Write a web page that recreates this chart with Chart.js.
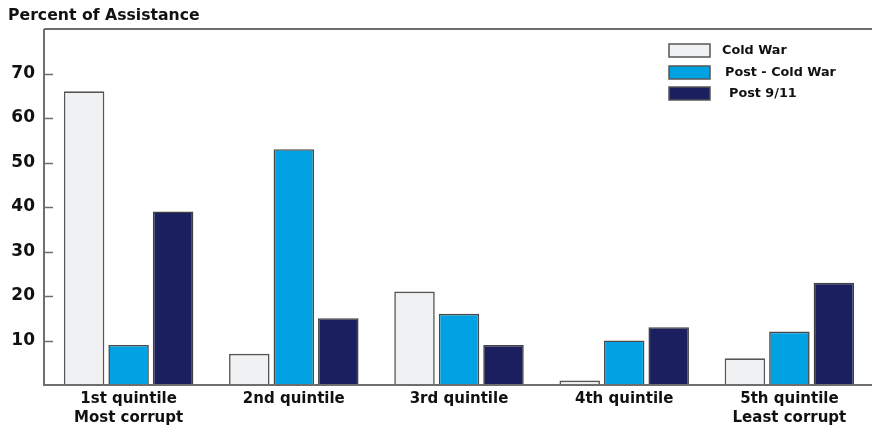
<!DOCTYPE html>
<html>
<head>
<meta charset="utf-8">
<script src="https://cdn.jsdelivr.net/npm/chart.js@4.4.1/dist/chart.umd.min.js"></script>
<style>
  html, body { margin: 0; padding: 0; background: #ffffff; }
  #wrap { width: 872px; height: 426px; }
</style>
</head>
<body>
<div id="wrap"><canvas id="c" width="872" height="426"></canvas></div>
<script>
// Share of assistance by corruption quintile, across three periods
const categories = [
  ["1st quintile", "Most corrupt"],
  "2nd quintile",
  "3rd quintile",
  "4th quintile",
  ["5th quintile", "Least corrupt"]
];
const coldWar     = [66, 7, 21, 1, 6];
const postColdWar = [9, 53, 16, 10, 12];
const post911     = [39, 15, 9, 13, 23];
const seriesNames = ["Cold War", "Post - Cold War", "Post 9/11"];
const yTicks = [10, 20, 30, 40, 50, 60, 70];
const titleText = "Percent of Assistance";

const FONT = "'DejaVu Sans', Verdana, sans-serif";
const AXIS = "#6e6e6e";
const AXIS_X = 44;

// Title, frame lines, inward tick marks and the legend
const decorations = {
  id: "decorations",
  afterDraw(chart) {
    const ctx = chart.ctx;
    const area = chart.chartArea;
    const y = chart.scales.y;
    ctx.save();

    ctx.fillStyle = "#111";
    ctx.font = "bold 15.7px " + FONT;
    ctx.textAlign = "left";
    ctx.textBaseline = "middle";
    ctx.fillText(titleText, 8, 16);

    ctx.strokeStyle = AXIS;
    ctx.lineWidth = 2;
    ctx.beginPath();
    ctx.moveTo(AXIS_X, area.top);
    ctx.lineTo(872, area.top);
    ctx.moveTo(AXIS_X, area.top);
    ctx.lineTo(AXIS_X, area.bottom + 1);
    ctx.moveTo(AXIS_X, area.bottom);
    ctx.lineTo(872, area.bottom);
    ctx.stroke();

    ctx.lineWidth = 1.5;
    yTicks.forEach(v => {
      const py = Math.round(y.getPixelForValue(v)) + 0.5;
      ctx.beginPath();
      ctx.moveTo(AXIS_X, py);
      ctx.lineTo(AXIS_X + 9, py);
      ctx.stroke();
    });

    const boxX = 669, boxW = 41, boxH = 13;
    const rowY = [44, 66, 87];
    const textX = [722, 725, 729];
    chart.data.datasets.forEach((ds, i) => {
      ctx.fillStyle = ds.backgroundColor;
      ctx.fillRect(boxX, rowY[i], boxW, boxH);
      ctx.strokeStyle = "#555";
      ctx.lineWidth = 1.5;
      ctx.strokeRect(boxX, rowY[i], boxW, boxH);
      ctx.fillStyle = "#111";
      ctx.font = "bold 12.8px " + FONT;
      ctx.textBaseline = "middle";
      ctx.fillText(ds.label, textX[i], rowY[i] + boxH / 2);
    });
    ctx.restore();
  }
};

new Chart(document.getElementById("c"), {
  type: "bar",
  data: {
    labels: categories,
    datasets: [
      { label: seriesNames[0], data: coldWar, backgroundColor: "#f0f1f3", borderColor: "#555555" },
      { label: seriesNames[1], data: postColdWar, backgroundColor: "#00a2e3", borderColor: "#4a4a4a" },
      { label: seriesNames[2], data: post911, backgroundColor: "#1c1f5f", borderColor: "#404040" }
    ]
  },
  options: {
    responsive: false,
    animation: false,
    devicePixelRatio: 1,
    layout: { padding: { top: 29, right: 0, left: 0, bottom: 0 } },
    datasets: {
      bar: { borderWidth: 1.6, categoryPercentage: 0.808, barPercentage: 0.91 }
    },
    plugins: {
      legend: { display: false },
      title: { display: false },
      tooltip: { enabled: false }
    },
    scales: {
      x: {
        grid: { display: false, drawTicks: false },
        border: { display: false },
        ticks: {
          color: "#111",
          font: { family: FONT, size: 15, weight: "bold", lineHeight: 1.27 },
          padding: 5,
          maxRotation: 0,
          autoSkip: false
        },
        afterFit(scale) { scale.height = 41; }
      },
      y: {
        min: 0,
        max: 80,
        grid: { display: false, drawTicks: false },
        border: { display: false },
        ticks: {
          stepSize: 10,
          color: "#111",
          font: { family: FONT, size: 17, weight: "bold" },
          padding: 11,
          callback: v => (yTicks.includes(v) ? String(v) : "")
        },
        afterFit(scale) { scale.width = 46; }
      }
    }
  },
  plugins: [decorations]
});
</script>
</body>
</html>
